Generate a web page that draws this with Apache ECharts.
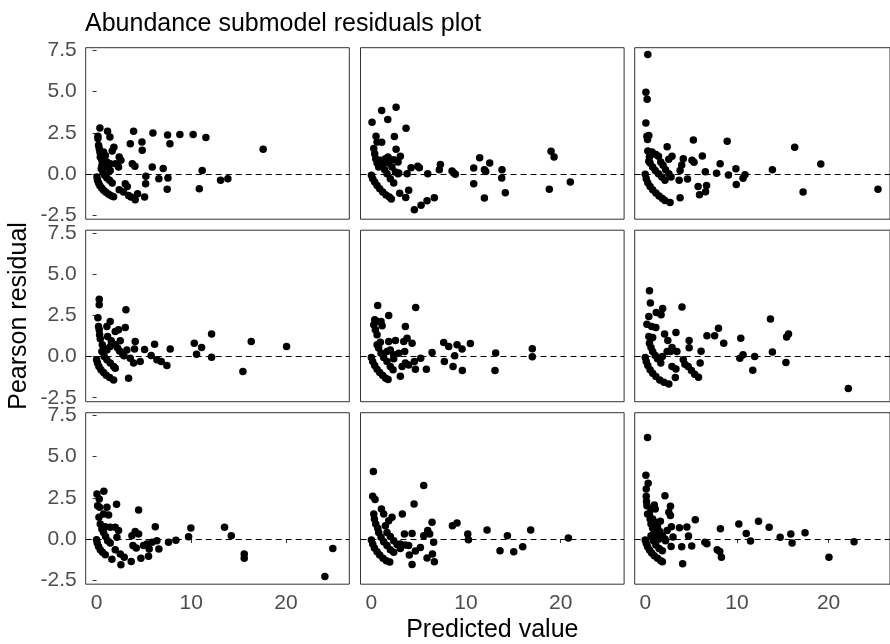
<!DOCTYPE html>
<html lang="en">
<head>
    <meta charset="UTF-8">
    <script src="https://cdn.jsdelivr.net/npm/echarts@6/dist/echarts.min.js"></script>
    <title>Abundance submodel residuals plot</title>
</head>
<body style="margin:0">
<div id="main" style="width: 890px;height: 644px"></div>
<script type="text/javascript">
    // residuals per panel, [predicted, pearson residual]
    var panel1 = [
        [0.35, 2.79], [0.14, 2.29], [0.14, 2.15], [1.16, 2.59], [1.41, 2.25], [0.21, 1.74], [0.28, 1.54],
        [0.35, 1.34], [0.74, 1.34], [0.92, 1.13], [1.83, 1.62], [1.65, 1.40], [1.09, 0.73], [0.56, 0.53],
        [1.44, 0.63], [2.0, 0.63], [2.39, 1.03], [2.57, 0.83], [2.32, 0.43], [3.91, 2.59], [3.56, 1.84],
        [4.79, 1.94], [4.82, 1.44], [3.77, 0.63], [4.05, 0.47], [5.95, 2.49], [7.5, 2.37], [7.75, 1.84],
        [8.8, 2.39], [10.2, 2.39], [11.55, 2.21], [17.6, 1.5], [5.88, 0.43], [7.04, 0.34], [11.16, 0.22],
        [5.21, -0.14], [5.18, -0.59], [6.58, -0.28], [7.54, -0.24], [7.46, -0.93], [10.85, -0.89],
        [13.1, -0.38], [13.87, -0.28], [3.03, -0.59], [3.24, -0.75], [4.33, -1.19], [4.08, -1.56],
        [5.07, -1.4], [2.39, -0.95], [2.85, -1.09], [3.38, -1.30], [3.63, -1.4],
        [0.04, -0.18], [0.1, -0.38], [0.21, -0.55], [0.35, -0.71], [0.53, -0.85], [0.74, -0.99],
        [0.99, -1.11], [1.27, -1.23], [1.55, -1.32], [1.8, -1.38],
        [0.49, 0.32], [0.67, 0.12], [0.85, -0.08], [1.09, -0.24], [1.37, -0.38], [1.65, -0.55],
        [0.39, 1.03], [0.56, 0.83], [0.81, 0.63], [1.09, 0.43], [1.44, 0.22]
    ];
    var panel2 = [
        [0.07, 3.14], [1.09, 3.85], [1.73, 3.30], [2.61, 4.05], [3.66, 2.77], [0.49, 2.29], [1.09, 1.92],
        [0.6, 1.94], [2.43, 2.27], [2.61, 1.5], [3.06, 1.07], [2.82, 0.73], [2.36, 0.87], [1.76, 1.03],
        [0.25, 1.54], [0.35, 1.23], [0.46, 0.93], [0.6, 0.67], [0.77, 0.43],
        [0.95, 0.83], [1.16, 0.53], [1.41, 0.26], [1.65, 0.02], [2.0, -0.28], [2.36, -0.55],
        [1.48, 0.93], [1.83, 0.67], [2.18, 0.43], [2.54, 0.12], [2.82, 0.02],
        [0, -0.08], [0.14, -0.28], [0.35, -0.49], [0.6, -0.69], [0.88, -0.89], [1.2, -1.09],
        [1.55, -1.28], [1.9, -1.4], [2.11, -1.52],
        [2.99, -1.17], [3.63, -1.42], [3.94, -0.99], [2.89, 0.06], [3.77, 0.02], [4.19, 0.38],
        [5.07, 0.38], [4.89, 0.47], [5.95, 0.02], [4.54, -2.17], [5.25, -1.9], [5.88, -1.62],
        [6.65, -1.44], [7.29, 0.57], [7.18, 0.26], [8.52, 0.18], [8.87, -0.02], [8.7, 0.06],
        [10.81, 0.36], [11.44, 0.99], [11.94, 0.26], [12.08, 0.16], [12.5, 0.67], [13.8, 0.26],
        [13.77, -0.24], [10.81, -0.59], [11.94, -1.46], [14.15, -1.13], [18.98, 1.38], [19.3, 1.03],
        [18.8, -0.93], [21.02, -0.49]
    ];
    var panel3 = [
        [0.28, 7.25], [0.07, 4.96], [0.21, 4.53], [0.07, 3.1], [0.18, 2.29], [0.39, 2.33], [0.25, 2.09],
        [0.28, 1.4], [0.74, 1.34], [0.46, 1.03], [0.39, 0.77],
        [0.53, 0.67], [0.81, 0.43], [1.09, 0.22], [1.44, 0.02], [1.8, -0.18], [2.15, -0.38],
        [1.16, 1.19], [1.44, 1.07], [1.69, 0.73], [1.94, 0.53], [2.22, 0.26], [2.57, 0.02], [2.82, -0.18],
        [2.39, 1.66], [2.92, 1.07], [2.57, 0.89], [4.15, 0.93], [3.98, 0.55], [3.8, 0.22], [3.7, -0.38],
        [4.61, -0.30], [5.25, 2.06], [5.1, 0.83], [5.32, 0.71], [6.23, 1.09], [6.55, 0.14],
        [5.77, -0.75], [6.69, -0.69], [6.58, -1.07], [5.92, -1.26], [7.78, 0.04], [8.17, 0.63],
        [8.94, 1.98], [9.08, -0.06], [9.89, 0.32], [9.93, -0.63], [10.67, -0.26], [10.88, -0.04],
        [13.87, 0.26], [16.3, 1.62], [17.22, -1.09], [19.15, 0.61], [25.39, -0.93],
        [0, -0.02], [0.11, -0.28], [0.28, -0.53], [0.53, -0.75], [0.81, -0.95], [1.16, -1.15],
        [1.51, -1.34], [1.87, -1.48], [2.15, -1.6], [2.71, -1.72], [3.8, -1.44]
    ];
    var panel4 = [
        [0.28, 3.48], [0.28, 3.14], [0.14, 2.35], [0.21, 1.82], [0.28, 1.62], [0.32, 1.32], [0.39, 1.07],
        [1.09, 1.82], [1.44, 2.13], [1.97, 1.52], [2.32, 1.62], [3.03, 1.76], [3.1, 2.83], [0.6, 0.71],
        [0.74, 0.51], [1.09, 0.4], [1.44, 0.61], [2.5, 0.95], [2.22, 0.51], [4.08, 0.91], [4.01, 0.45],
        [5.07, 0.43], [6.13, 0.75], [7.78, 0.45], [2.89, 0.04], [3.2, 0.4], [3.56, -0.1], [3.91, -0.4],
        [4.61, -0.3], [5.77, 0.06], [6.37, -0.2], [6.83, -0.3], [7.43, -0.55], [3.38, -1.32],
        [10.32, 0.81], [10.56, 0.14], [11.09, 0.55], [12.15, 1.36], [12.15, -0.04], [15.46, -0.91],
        [16.34, 0.91], [20.07, 0.61],
        [0, -0.2], [0.1, -0.4], [0.25, -0.61], [0.46, -0.81], [0.74, -0.97], [1.02, -1.13],
        [1.37, -1.28], [1.8, -1.42],
        [0.56, 0.3], [0.81, 0], [1.09, -0.2], [1.44, -0.4], [1.8, -0.61], [1.97, -0.71],
        [1.16, 1.21], [1.55, 0.95], [1.97, 0.71], [2.43, 0.34], [2.78, 0.14]
    ];
    var panel5 = [
        [0.67, 3.1], [1.83, 2.49], [4.68, 2.98], [0.35, 2.23], [0.6, 2.13], [1.02, 2.13], [1.13, 1.86],
        [3.59, 1.82], [0.25, 1.92], [0.42, 1.62], [0.6, 1.32],
        [0.95, 0.87], [1.83, 0.91], [2.54, 0.97], [3.42, 0.91], [3.77, 1.11], [4.3, 0.81],
        [1.65, 0.3], [2.36, -0.14], [2.89, 0.2], [3.52, 0.3], [3.24, -0.61], [3.59, -0.4], [3.94, -0.51],
        [4.54, -0.3], [4.65, -0.77], [5.21, -0.1], [5.81, -0.77], [6.41, 0.24], [7.64, 0.85],
        [8.17, 0.61], [7.71, -0.3], [8.8, 0.04], [8.63, -0.61], [9.05, 0.71], [9.58, 0.45],
        [9.61, -0.85], [10.46, 0.79], [13.13, 0.22], [13.06, -0.85], [17.0, 0.47], [17.0, -0.02],
        [3.06, -1.19],
        [0, -0.06], [0.14, -0.3], [0.35, -0.55], [0.6, -0.77], [0.88, -0.97], [1.2, -1.15],
        [1.51, -1.32], [1.76, -1.4],
        [0.6, 0.71], [0.77, 0.51], [1.02, 0.2], [1.3, -0.06], [1.65, -0.3], [2.0, -0.61], [2.29, -0.81],
        [2.0, 0.4], [2.36, 0.1]
    ];
    var panel6 = [
        [0.46, 3.99], [0.56, 3.24], [1.2, 2.67], [1.73, 2.53], [1.9, 2.91], [4.01, 3.0], [0.39, 2.43],
        [0.18, 1.96], [0.7, 1.82], [1.16, 1.76], [2.11, 1.36], [3.35, 1.46], [2.46, 0.97], [4.79, 0.97],
        [4.79, 0.53], [6.73, 1.26], [7.57, 1.26], [7.99, 1.72], [8.56, 0.81], [6.09, 0.32], [5.99, -0.4],
        [10.42, 1.11], [10.32, -0.1], [10.67, 0.1], [11.94, 0], [11.73, -0.83], [13.66, 2.27],
        [13.87, 0.28], [15.35, -0.36], [15.42, 1.19], [15.63, 1.36], [22.15, -1.94],
        [0.39, 1.21], [0.63, 1.11], [0.81, 1.15],
        [0.46, 0.81], [0.63, 0.55], [0.81, 0.3], [1.09, 0.06], [1.34, -0.14], [1.69, -0.4],
        [1.87, 0], [2.39, 0.3], [2.75, 0.3], [2.92, 0.55], [3.45, 0.3],
        [2.92, -0.61], [3.35, -0.75], [3.28, -1.28],
        [4.15, -0.2], [4.33, -0.47], [4.68, -0.61], [5.04, -0.85], [5.39, -1.07], [5.81, -1.26],
        [0, -0.06], [0.11, -0.3], [0.28, -0.55], [0.53, -0.81], [0.81, -1.01], [1.16, -1.21],
        [1.58, -1.42], [2.04, -1.56], [2.57, -1.66]
    ];
    var panel7 = [
        [0.04, 2.73], [0.77, 2.89], [0.28, 2.43], [0.11, 2.02], [0.32, 1.92], [1.09, 1.92], [2.11, 2.11],
        [4.44, 1.76], [0.25, 1.32], [0.74, 1.52], [1.27, 1.46], [0.39, 0.91], [0.92, 0.75], [1.44, 0.71],
        [1.97, 0.71], [2.32, 0.51], [2.15, 0.1], [4.08, 0.45], [4.44, 0.3], [3.73, 0.2], [6.2, 0.75],
        [6.37, -0.1], [7.6, -0.2], [8.38, -0.08], [9.72, 0.14], [9.96, 0.67], [13.52, 0.71],
        [14.23, 0.2], [15.6, -0.91], [15.6, -1.17], [24.12, -2.27], [24.96, -0.57],
        [3.84, -0.4], [4.19, -0.55], [4.96, -0.4], [5.32, -0.3], [5.56, -0.61], [5.85, -0.2],
        [5.49, -1.05], [6.58, -0.61], [4.68, -1.17], [3.66, -1.36], [2.57, -1.56], [1.62, -1.23],
        [1.97, -0.65], [2.5, -0.91], [2.92, -1.11],
        [0, -0.04], [0.07, -0.24], [0.21, -0.45], [0.39, -0.65], [0.63, -0.81], [0.92, -0.95],
        [0.56, 0.61], [0.74, 0.4], [0.95, 0.16], [1.16, -0.1], [1.44, -0.24]
    ];
    var panel8 = [
        [0.21, 4.09], [0.14, 2.59], [0.39, 2.39], [5.53, 3.24], [4.51, 2.13], [1.06, 1.82], [1.3, 1.52],
        [3.27, 1.52], [0.25, 1.52], [0.32, 1.21], [0.46, 0.91], [0.67, 0.65], [2.18, 1.32], [1.83, 1.11],
        [1.48, 0.81], [6.41, 1.01], [5.95, 0.51], [6.16, 0.3], [5.53, 0.2], [3.49, 0.3], [4.3, 0.34],
        [8.56, 0.81], [9.05, 0.97], [10.18, 0.3], [10.25, -0.04], [12.22, 0.55], [14.37, 0.2],
        [16.83, 0.55], [20.81, 0.06], [13.59, -0.71], [15.04, -0.77], [15.99, -0.47],
        [6.58, -0.2], [6.45, -0.91], [6.65, -1.38], [5.88, -1.15], [4.3, -1.54], [4.01, -0.97],
        [4.65, -0.73], [5.18, -0.51], [3.59, -0.36], [3.94, -0.4], [3.06, -0.3],
        [0, -0.06], [0.14, -0.3], [0.32, -0.55], [0.6, -0.77], [0.88, -0.97], [1.23, -1.17],
        [1.58, -1.32], [1.94, -1.4],
        [0.77, 0.4], [1.02, 0.1], [1.3, -0.16], [1.65, -0.4], [2.0, -0.65], [2.36, -0.81],
        [1.65, 0.4], [2.0, 0.16], [2.36, -0.1], [2.71, -0.34], [3.06, -0.57]
    ];
    var panel9 = [
        [0.25, 6.15], [0.07, 3.87], [0.32, 3.38], [0.11, 3.04], [0.11, 2.59], [0.14, 2.27], [2.15, 2.63],
        [0.25, 1.52], [0.63, 1.82], [0.99, 2.06], [1.09, 1.82], [2.75, 1.98], [2.57, 1.62], [2.75, 1.42],
        [1.65, 1.07], [5.46, 1.17], [3.73, 0.69], [4.54, 0.73], [4.72, 0.18], [5.07, -0.43],
        [3.98, -0.47], [4.08, -1.5], [2.82, -0.45], [3.03, 0.12], [2.85, 0.75], [2.39, 0.51],
        [2.22, -0.1], [6.51, -0.2], [6.73, -0.28], [7.85, -0.65], [8.13, -0.75], [8.31, -1.11],
        [8.2, 0.63], [10.21, 0.91], [11.02, 0.34], [11.48, -0.12], [12.36, 1.07], [13.52, 0.71],
        [14.72, 0.1], [15.88, 0.3], [16.02, -0.24], [17.43, 0.38], [20.04, -1.11], [22.78, -0.16],
        [0.18, 2.02],
        [0.46, 1.52], [0.53, 1.21], [0.63, 0.91], [0.81, 0.65], [0.99, 0.4], [1.23, 0.2], [1.51, 0],
        [0.81, 1.21], [1.09, 1.01], [1.34, 0.71], [1.58, 0.45], [1.87, 0.2], [2.15, 0],
        [0, -0.06], [0.11, -0.26], [0.25, -0.47], [0.46, -0.67], [0.7, -0.85], [0.99, -1.01],
        [1.34, -1.17], [1.69, -1.32], [1.87, -1.38],
        [0.63, 0.2], [0.88, -0.1], [1.16, -0.36], [1.51, -0.57], [1.87, -0.71]
    ];

    var xTicks = [0, 10, 20];
    var yTicks = [-2.5, 0, 2.5, 5, 7.5];

    var panels = [panel1, panel2, panel3, panel4, panel5, panel6, panel7, panel8, panel9];
    var colLeft = [85.7, 360.5, 634.7];
    var rowTop = [47.7, 230.2, 412.7];
    var font = "'Liberation Sans', Arial, sans-serif";

    var grids = [], xAxes = [], yAxes = [], series = [];
    panels.forEach(function (data, i) {
        var r = Math.floor(i / 3), c = i % 3;
        grids.push({
            left: colLeft[c], top: rowTop[r], width: 263.6, height: 171.5,
            show: true, borderColor: '#333', borderWidth: 1, backgroundColor: '#fff'
        });
        xAxes.push({
            type: 'value', gridIndex: i, min: -1.15, max: 26.7,
            splitLine: {show: false},
            axisLine: {show: false},
            axisTick: {show: r === 2, length: 4, customValues: xTicks, lineStyle: {color: '#333'}},
            axisLabel: {
                show: r === 2, customValues: xTicks, margin: 9,
                color: '#4d4d4d', fontSize: 21, fontFamily: font
            },
            name: (r === 2 && c === 1) ? 'Predicted value' : '',
            nameLocation: 'middle', nameGap: 33,
            nameTextStyle: {color: '#000', fontSize: 25, fontFamily: font}
        });
        yAxes.push({
            type: 'value', gridIndex: i, min: -2.74, max: 7.66,
            splitLine: {show: false},
            axisLine: {show: false},
            axisTick: {show: c === 0, length: 4, customValues: yTicks, lineStyle: {color: '#333'}},
            axisLabel: {
                show: c === 0, customValues: yTicks, margin: 9,
                color: '#4d4d4d', fontSize: 21, fontFamily: font,
                formatter: function (v) { return v.toFixed(1); }
            },
            name: (r === 1 && c === 0) ? 'Pearson residual' : '',
            nameLocation: 'middle', nameRotate: 90, nameGap: 54,
            nameTextStyle: {color: '#000', fontSize: 25, fontFamily: font}
        });
        series.push({
            type: 'scatter', xAxisIndex: i, yAxisIndex: i,
            data: data, symbolSize: 7.5,
            itemStyle: {color: '#000', opacity: 1},
            markLine: {
                silent: true, symbol: 'none', animation: false,
                label: {show: false},
                lineStyle: {color: '#000', width: 1, type: [6, 4]},
                data: [{yAxis: 0}]
            }
        });
    });

    var myChart = echarts.init(document.getElementById('main'));
    myChart.setOption({
        animation: false,
        backgroundColor: '#fff',
        title: {
            text: 'Abundance submodel residuals plot',
            left: 85, top: 12, padding: 0,
            textStyle: {color: '#000', fontSize: 25, fontWeight: 'normal', fontFamily: font}
        },
        grid: grids,
        xAxis: xAxes,
        yAxis: yAxes,
        series: series
    });
</script>
</body>
</html>
